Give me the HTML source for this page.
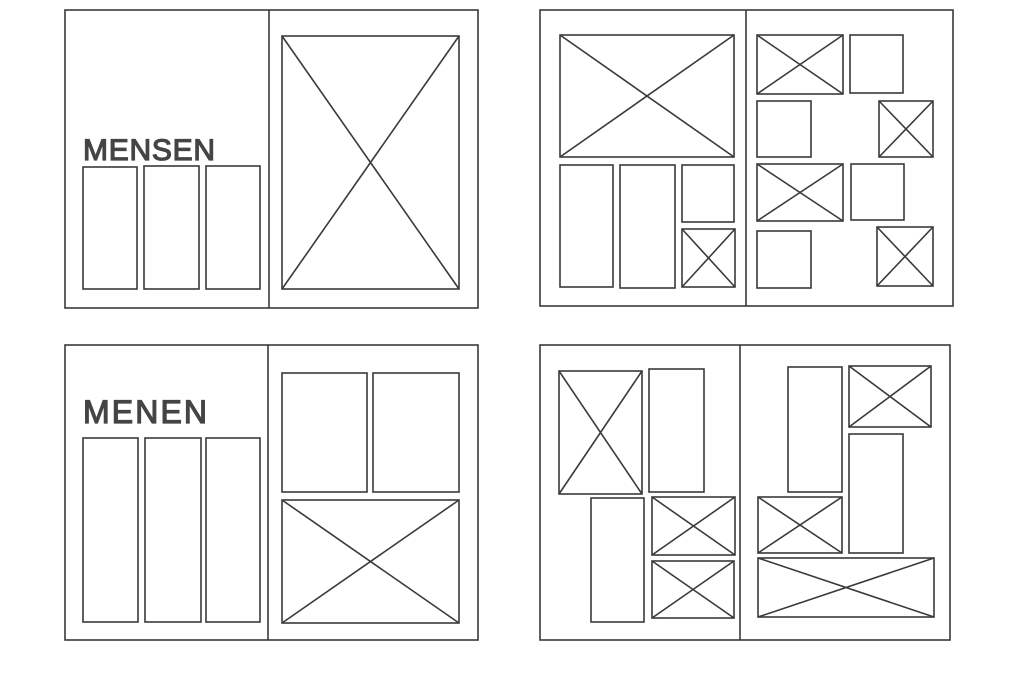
<!DOCTYPE html>
<html><head><meta charset="utf-8"><style>
html,body{margin:0;padding:0;background:#fff;}
svg{display:block;}
text{font-family:"Liberation Sans",sans-serif;font-weight:normal;fill:#444;stroke:#444;stroke-width:1.2;}
</style></head><body>
<svg width="1024" height="690" viewBox="0 0 1024 690" xmlns="http://www.w3.org/2000/svg">
<g fill="none" stroke="#3a3a3a" stroke-width="1.6">
<rect x="65" y="10" width="413" height="298"/>
<line x1="269" y1="10" x2="269" y2="308"/>
<rect x="83" y="167" width="54" height="122"/>
<rect x="144" y="166" width="55" height="123"/>
<rect x="206" y="166" width="54" height="123"/>
<rect x="282" y="36" width="177" height="253"/>
<line x1="282" y1="36" x2="459" y2="289"/><line x1="459" y1="36" x2="282" y2="289"/>
<rect x="540" y="10" width="413" height="296"/>
<line x1="746" y1="10" x2="746" y2="306"/>
<rect x="560" y="35" width="174" height="122"/>
<line x1="560" y1="35" x2="734" y2="157"/><line x1="734" y1="35" x2="560" y2="157"/>
<rect x="560" y="165" width="53" height="122"/>
<rect x="620" y="165" width="55" height="123"/>
<rect x="682" y="165" width="52" height="57"/>
<rect x="682" y="229" width="53" height="58"/>
<line x1="682" y1="229" x2="735" y2="287"/><line x1="735" y1="229" x2="682" y2="287"/>
<rect x="757" y="35" width="86" height="59"/>
<line x1="757" y1="35" x2="843" y2="94"/><line x1="843" y1="35" x2="757" y2="94"/>
<rect x="850" y="35" width="53" height="58"/>
<rect x="757" y="101" width="54" height="56"/>
<rect x="879" y="101" width="54" height="56"/>
<line x1="879" y1="101" x2="933" y2="157"/><line x1="933" y1="101" x2="879" y2="157"/>
<rect x="757" y="164" width="86" height="57"/>
<line x1="757" y1="164" x2="843" y2="221"/><line x1="843" y1="164" x2="757" y2="221"/>
<rect x="851" y="164" width="53" height="56"/>
<rect x="757" y="231" width="54" height="57"/>
<rect x="877" y="227" width="56" height="59"/>
<line x1="877" y1="227" x2="933" y2="286"/><line x1="933" y1="227" x2="877" y2="286"/>
<rect x="65" y="345" width="413" height="295"/>
<line x1="268" y1="345" x2="268" y2="640"/>
<rect x="83" y="438" width="55" height="184"/>
<rect x="145" y="438" width="56" height="184"/>
<rect x="206" y="438" width="54" height="184"/>
<rect x="282" y="373" width="85" height="119"/>
<rect x="373" y="373" width="86" height="119"/>
<rect x="282" y="500" width="177" height="123"/>
<line x1="282" y1="500" x2="459" y2="623"/><line x1="459" y1="500" x2="282" y2="623"/>
<rect x="540" y="345" width="410" height="295"/>
<line x1="740" y1="345" x2="740" y2="640"/>
<rect x="559" y="371" width="83" height="123"/>
<line x1="559" y1="371" x2="642" y2="494"/><line x1="642" y1="371" x2="559" y2="494"/>
<rect x="649" y="369" width="55" height="123"/>
<rect x="591" y="498" width="53" height="124"/>
<rect x="652" y="497" width="83" height="58"/>
<line x1="652" y1="497" x2="735" y2="555"/><line x1="735" y1="497" x2="652" y2="555"/>
<rect x="652" y="561" width="82" height="57"/>
<line x1="652" y1="561" x2="734" y2="618"/><line x1="734" y1="561" x2="652" y2="618"/>
<rect x="788" y="367" width="54" height="125"/>
<rect x="849" y="366" width="82" height="61"/>
<line x1="849" y1="366" x2="931" y2="427"/><line x1="931" y1="366" x2="849" y2="427"/>
<rect x="849" y="434" width="54" height="119"/>
<rect x="758" y="497" width="84" height="56"/>
<line x1="758" y1="497" x2="842" y2="553"/><line x1="842" y1="497" x2="758" y2="553"/>
<rect x="758" y="558" width="176" height="59"/>
<line x1="758" y1="558" x2="934" y2="617"/><line x1="934" y1="558" x2="758" y2="617"/>
</g>
<text x="83" y="160" font-size="30" textLength="132" lengthAdjust="spacing">MENSEN</text>
<text x="83" y="423" font-size="32" textLength="124" lengthAdjust="spacing">MENEN</text>
</svg>
</body></html>
